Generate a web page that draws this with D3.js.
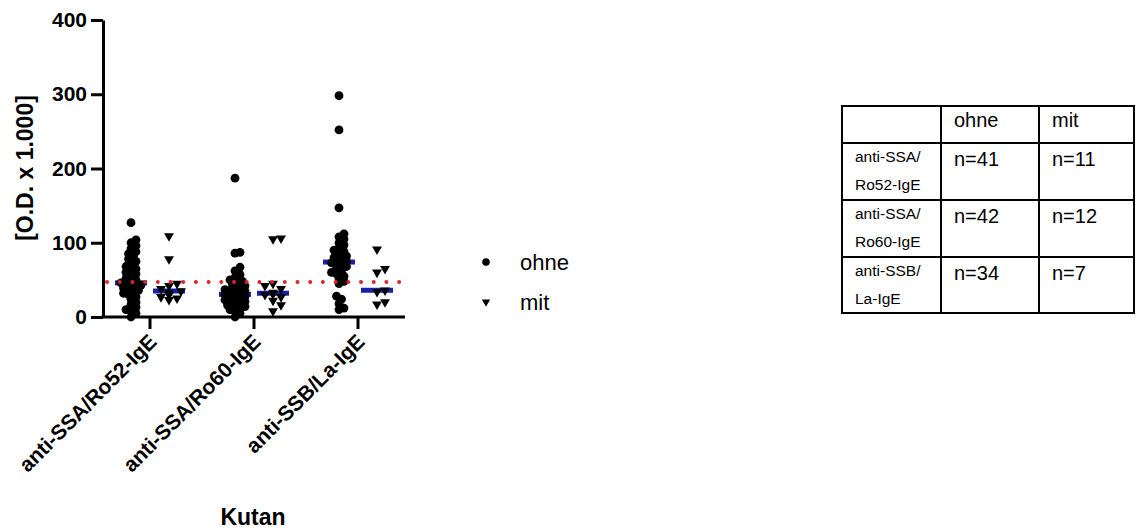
<!DOCTYPE html>
<html lang="de">
 <head>
 <meta http-equiv="Content-Type" content="text/html; charset=UTF-8">
        <title>Kutan</title>
        <script type="text/javascript" src="https://unpkg.com/d3@7/dist/d3.min.js"></script>
        <style>
          body { margin: 0; background: #fff; }
          text { font-family: Arial, "Liberation Sans", sans-serif; }
        </style>
 </head>
 <body>
        <script type="text/javascript">

          // categories and series
          var groups = ["anti-SSA/Ro52-IgE", "anti-SSA/Ro60-IgE", "anti-SSB/La-IgE"];
          var seriesNames = ["ohne", "mit"];

          // values [O.D. x 1.000]
          var ohneRo52 = [0, 5, 8, 10, 13, 17, 20, 24, 27, 30, 32, 34, 36, 38, 39, 40, 42, 43, 44, 45, 46,
                          48, 50, 52, 55, 58, 60, 63, 65, 68, 72, 75, 78, 82, 85, 88, 92, 96, 100, 104, 127];
          var mitRo52 = [23, 25, 27, 30, 33, 35, 38, 42, 45, 78, 109];
          var ohneRo60 = [0, 5, 8, 10, 12, 14, 15, 16, 18, 19, 20, 21, 22, 23, 24, 25, 26, 27, 28, 29, 30,
                          31, 32, 33, 34, 35, 36, 37, 38, 40, 42, 44, 46, 48, 50, 53, 57, 62, 67, 86, 87, 187];
          var mitRo60 = [8, 16, 22, 27, 30, 31, 33, 38, 42, 45, 105, 106];
          var ohneLa = [10, 12, 18, 24, 28, 45, 48, 52, 55, 58, 60, 63, 65, 68, 70, 72, 73, 75, 77, 78,
                        80, 82, 85, 88, 90, 93, 97, 100, 105, 108, 112, 147, 252, 298];
          var mitLa = [17, 20, 34, 36, 60, 65, 91];

          var ohneValues = [ohneRo52, ohneRo60, ohneLa];
          var mitValues = [mitRo52, mitRo60, mitLa];

          var cutoff = 47;
          var yTicks = [0, 100, 200, 300, 400];

          // table
          var tableHeader = ["", "ohne", "mit"];
          var tableLabels = [["anti-SSA/", "Ro52-IgE"], ["anti-SSA/", "Ro60-IgE"], ["anti-SSB/", "La-IgE"]];
          var tableOhne = ["n=41", "n=42", "n=34"];
          var tableMit = ["n=11", "n=12", "n=7"];

          var width = 1136, height = 531;

          var svg = d3.select("body").append("svg")
                      .attr("width", width)
                      .attr("height", height);

          var x = d3.scaleBand().domain(groups).range([98, 410]);
          var y = d3.scaleLinear().domain([0, 400]).range([317, 20]);
          var offset = { "ohne": -19, "mit": 19 };

          var median = (arr) => d3.median(arr);

          // simple swarm layout, points are allowed to overlap a good deal
          function swarm(vals, cx, minD, step, maxOff) {
            var placed = [];
            var order = vals.map((v, i) => i).sort((a, b) => vals[a] - vals[b]);
            var out = new Array(vals.length);
            order.forEach(function(i) {
              var py = y(vals[i]);
              var best = null;
              for (var k = 0; k < 30; k++) {
                var dx = (k === 0) ? 0 : Math.ceil(k / 2) * step * (k % 2 ? 1 : -1);
                if (Math.abs(dx) > maxOff) break;
                var px = cx + dx;
                var ok = placed.every((p) => Math.hypot(p[0] - px, p[1] - py) >= minD);
                if (ok) { best = px; break; }
              }
              if (best === null) best = cx;
              placed.push([best, py]);
              out[i] = best;
            });
            return out;
          }

          // y axis
          var yAxis = svg.append("g")
             .attr("transform", "translate(103,0)")
             .call(d3.axisLeft(y).tickValues(yTicks).tickSize(12).tickSizeOuter(0).tickPadding(4));
          yAxis.select(".domain").attr("stroke", "#000").attr("stroke-width", 3);
          yAxis.selectAll(".tick line").attr("stroke", "#000").attr("stroke-width", 3);
          yAxis.selectAll(".tick text").attr("fill", "#000")
               .style("font-size", "21px").style("font-weight", "bold");

          // x axis
          var xAxis = svg.append("g")
             .attr("transform", "translate(0,317)")
             .call(d3.axisBottom(x).tickSize(12).tickSizeOuter(0).tickFormat(""));
          xAxis.select(".domain").remove();
          xAxis.selectAll(".tick line").attr("stroke", "#000").attr("stroke-width", 3);
          svg.append("line")
             .attr("x1", 101.5).attr("x2", 405)
             .attr("y1", y(0)).attr("y2", y(0))
             .attr("stroke", "#000").attr("stroke-width", 3);

          svg.selectAll(".xlab")
             .data(groups)
             .enter()
             .append("text")
             .attr("class", "xlab")
             .attr("transform", (d) => "translate(" + (x(d) + x.bandwidth() / 2 + 8) + ",343) rotate(-45)")
             .attr("text-anchor", "end")
             .style("font-size", "21px")
             .style("font-weight", "bold")
             .text((d) => d);

          svg.append("text")
             .attr("x", 253).attr("y", 525)
             .attr("text-anchor", "middle")
             .style("font-size", "23px").style("font-weight", "bold")
             .text("Kutan");

          svg.append("text")
             .attr("transform", "translate(33,168) rotate(-90)")
             .attr("text-anchor", "middle")
             .style("font-size", "23px").style("font-weight", "bold")
             .text("[O.D. x 1.000]");

          // median bars
          var medians = [];
          groups.forEach(function(g, gi) {
            medians.push({ g: g, s: "ohne", v: median(ohneValues[gi]) });
            medians.push({ g: g, s: "mit", v: median(mitValues[gi]) });
          });
          svg.selectAll(".med")
             .data(medians)
             .enter()
             .append("line")
             .attr("class", "med")
             .attr("x1", (d) => x(d.g) + x.bandwidth() / 2 + offset[d.s] - 16)
             .attr("x2", (d) => x(d.g) + x.bandwidth() / 2 + offset[d.s] + 16)
             .attr("y1", (d) => y(d.v))
             .attr("y2", (d) => y(d.v))
             .attr("stroke", "#1a1fa8")
             .attr("stroke-width", 5);

          // points
          var r = 4.4;
          groups.forEach(function(g, gi) {
            var cxO = x(g) + x.bandwidth() / 2 + offset.ohne;
            var xs = swarm(ohneValues[gi], cxO, 4.8, 2.5, 10);
            svg.append("g").selectAll("circle")
               .data(ohneValues[gi])
               .enter()
               .append("circle")
               .attr("cx", (d, i) => xs[i])
               .attr("cy", (d) => y(d))
               .attr("r", r)
               .attr("fill", "#000");

            var cxM = x(g) + x.bandwidth() / 2 + offset.mit;
            var xm = swarm(mitValues[gi], cxM, 8, 4, 14);
            svg.append("g").selectAll("path")
               .data(mitValues[gi])
               .enter()
               .append("path")
               .attr("d", d3.symbol().type(d3.symbolTriangle).size(42))
               .attr("transform", (d, i) => "translate(" + xm[i] + "," + y(d) + ") rotate(180)")
               .attr("fill", "#000");
          });

          // cutoff line
          svg.append("line")
             .attr("x1", 107).attr("x2", 402)
             .attr("y1", y(cutoff)).attr("y2", y(cutoff))
             .attr("stroke", "#d42a2a")
             .attr("stroke-width", 4)
             .attr("stroke-linecap", "round")
             .attr("stroke-dasharray", "0 12.7");

          // legend
          var legend = svg.append("g").attr("transform", "translate(486,262)");
          legend.append("circle").attr("cx", 0).attr("cy", 0).attr("r", 3.8).attr("fill", "#000");
          legend.append("path")
                .attr("d", d3.symbol().type(d3.symbolTriangle).size(30))
                .attr("transform", "translate(0,40) rotate(180)")
                .attr("fill", "#000");
          legend.selectAll("text")
                .data(seriesNames)
                .enter()
                .append("text")
                .attr("x", 34)
                .attr("y", (d, i) => i * 40 + 8)
                .style("font-size", "22px")
                .text((d) => d);

          // table
          var colX = [842, 941, 1039, 1134];
          var rowY = [106, 143, 200, 257, 313];
          var tbl = svg.append("g");
          colX.forEach(function(cx) {
            tbl.append("line").attr("x1", cx).attr("x2", cx)
               .attr("y1", rowY[0]).attr("y2", rowY[rowY.length - 1])
               .attr("stroke", "#000").attr("stroke-width", 2);
          });
          rowY.forEach(function(ry) {
            tbl.append("line").attr("x1", colX[0] - 1).attr("x2", colX[3] + 1)
               .attr("y1", ry).attr("y2", ry)
               .attr("stroke", "#000").attr("stroke-width", 2);
          });
          tbl.selectAll(".hdr")
             .data(tableHeader)
             .enter()
             .append("text")
             .attr("x", (d, i) => colX[i] + 13)
             .attr("y", 127)
             .style("font-size", "20px")
             .text((d) => d);
          tableLabels.forEach(function(lab, ri) {
            tbl.append("text").attr("x", colX[0] + 13).attr("y", rowY[ri + 1] + 19)
               .style("font-size", "15.5px").text(lab[0]);
            tbl.append("text").attr("x", colX[0] + 13).attr("y", rowY[ri + 1] + 47)
               .style("font-size", "15.5px").text(lab[1]);
            tbl.append("text").attr("x", colX[1] + 13).attr("y", rowY[ri + 1] + 23)
               .style("font-size", "20px").text(tableOhne[ri]);
            tbl.append("text").attr("x", colX[2] + 13).attr("y", rowY[ri + 1] + 23)
               .style("font-size", "20px").text(tableMit[ri]);
          });

        </script>
    </body>
</html>
